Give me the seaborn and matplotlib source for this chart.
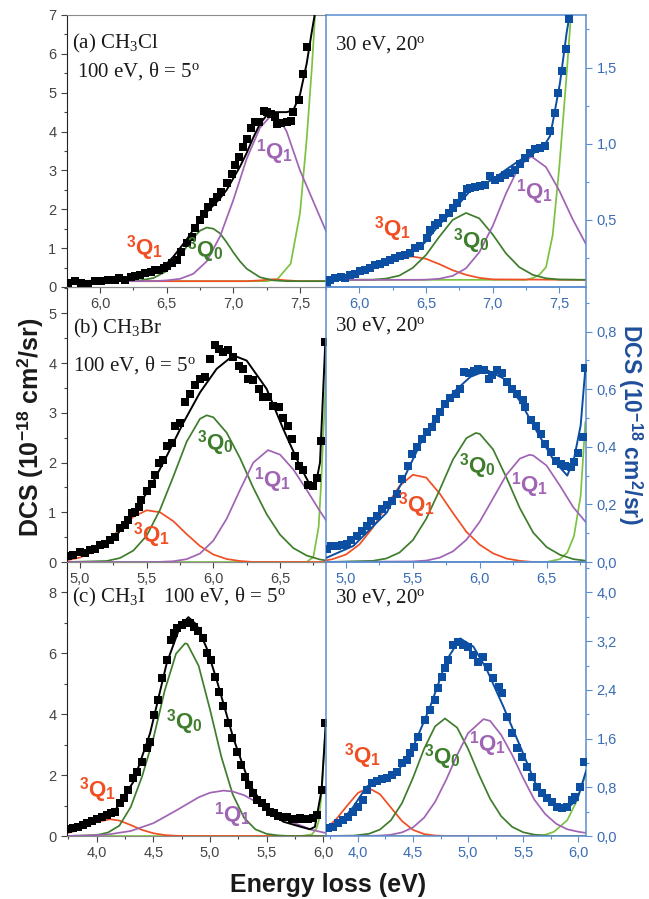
import matplotlib
matplotlib.use("Agg")
import matplotlib.pyplot as plt
import seaborn as sns
from matplotlib.ticker import MultipleLocator, FuncFormatter

# values: (energy loss eV, DCS 1e-18 cm^2/sr)
# ---- (a) CH3Cl, 100 eV ----
a_l_pts = [(5.76, .11), (5.81, .15), (5.86, .11), (5.91, .09), (5.96, .15), (6.01, .15), (6.06, .18),
           (6.11, .18), (6.14, .22), (6.19, .18), (6.23, .25), (6.26, .28), (6.30, .31), (6.34, .35),
           (6.38, .39), (6.41, .44), (6.44, .45), (6.48, .48), (6.50, .54), (6.54, .61), (6.58, .69),
           (6.61, .91), (6.65, 1.12), (6.69, 1.28), (6.71, 1.51), (6.75, 1.72), (6.78, 1.89), (6.81, 2.07),
           (6.85, 2.19), (6.88, 2.32), (6.91, 2.45), (6.95, 2.68), (6.99, 2.92), (7.01, 3.14), (7.04, 3.35),
           (7.07, 3.61), (7.10, 3.82), (7.13, 4.08), (7.16, 4.25), (7.19, 4.25), (7.23, 4.53), (7.25, 4.51),
           (7.28, 4.46), (7.31, 4.38), (7.33, 4.19), (7.36, 4.22), (7.40, 4.25), (7.43, 4.28), (7.45, 4.51),
           (7.49, 4.81), (7.52, 5.49), (7.55, 6.18)]
a_l_fit = [(5.75, .15), (6.0, .16), (6.2, .22), (6.3, .3), (6.4, .43), (6.5, .6), (6.55, .78), (6.6, 1.0),
           (6.65, 1.22), (6.7, 1.48), (6.75, 1.74), (6.8, 1.93), (6.85, 2.1), (6.9, 2.28), (6.95, 2.5),
           (7.0, 2.8), (7.05, 3.1), (7.1, 3.45), (7.15, 3.85), (7.2, 4.2), (7.25, 4.42), (7.3, 4.5),
           (7.35, 4.5), (7.4, 4.5), (7.45, 4.55), (7.5, 4.95), (7.55, 5.75), (7.59, 6.6), (7.62, 7.2)]
a_l_3q1 = [(5.75, .15), (7.1, .15), (7.2, .17), (7.3, .2), (7.4, .17), (7.5, .15), (7.7, .15)]
a_l_3q0 = [(5.75, .15), (6.2, .15), (6.3, .17), (6.4, .23), (6.5, .41), (6.6, .79), (6.65, 1.04), (6.7, 1.27),
           (6.75, 1.45), (6.8, 1.53), (6.85, 1.5), (6.9, 1.38), (6.95, 1.15), (7.0, .89), (7.05, .66),
           (7.1, .47), (7.2, .25), (7.3, .17), (7.4, .15), (7.7, .15)]
a_l_1q1 = [(5.75, .15), (6.4, .15), (6.5, .17), (6.6, .21), (6.7, .34), (6.8, .66), (6.9, 1.3), (7.0, 2.24),
           (7.1, 3.3), (7.2, 4.1), (7.28, 4.4), (7.35, 4.3), (7.4, 4.0), (7.5, 3.0), (7.6, 2.2), (7.7, 1.4)]
a_l_next = [(5.75, .15), (7.25, .15), (7.33, .2), (7.43, .6), (7.5, 1.9), (7.55, 3.8), (7.59, 5.7), (7.62, 7.4)]

a_r_pts = [(5.755, .086), (5.78, .107), (5.82, .118), (5.86, .123), (5.89, .118), (5.93, .14), (5.97, .147),
           (6.005, .162), (6.04, .173), (6.08, .184), (6.12, .206), (6.155, .213), (6.19, .221), (6.23, .235),
           (6.27, .25), (6.305, .261), (6.34, .272), (6.38, .283), (6.42, .316), (6.455, .327), (6.505, .382),
           (6.53, .436), (6.57, .469), (6.59, .48), (6.63, .513), (6.67, .546), (6.705, .579), (6.73, .612),
           (6.77, .656), (6.805, .70), (6.83, .71), (6.87, .717), (6.905, .721), (6.94, .732), (6.98, .787),
           (7.02, .765), (7.055, .776), (7.09, .798), (7.13, .809), (7.17, .831), (7.205, .864), (7.24, .908),
           (7.28, .941), (7.32, .963), (7.355, .974), (7.39, .985), (7.43, 1.083), (7.47, 1.204),
           (7.49, 1.336), (7.52, 1.478), (7.55, 1.625), (7.57, 1.822)]
a_r_fit = [(5.75, .09), (5.8, .105), (5.9, .125), (6.0, .155), (6.1, .19), (6.2, .217), (6.3, .26), (6.4, .3),
           (6.45, .316), (6.5, .36), (6.6, .47), (6.7, .557), (6.8, .66), (6.84, .7), (6.9, .725), (7.0, .765),
           (7.1, .83), (7.2, .89), (7.3, .934), (7.38, .98), (7.43, 1.05), (7.455, 1.16), (7.505, 1.40),
           (7.555, 1.73), (7.58, 1.86)]
a_r_3q1 = [(5.75, .107), (5.85, .11), (5.95, .125), (6.05, .16), (6.15, .2), (6.25, .24), (6.35, .258),
           (6.4, .26), (6.5, .245), (6.6, .21), (6.7, .17), (6.8, .14), (6.9, .12), (7.0, .11), (7.7, .107)]
a_r_3q0 = [(5.75, .107), (6.1, .108), (6.2, .115), (6.3, .135), (6.4, .185), (6.5, .27), (6.6, .39), (6.7, .5),
           (6.8, .546), (6.9, .51), (7.0, .405), (7.1, .28), (7.2, .19), (7.3, .14), (7.4, .117), (7.5, .109),
           (7.7, .107)]
a_r_1q1 = [(5.75, .107), (6.4, .107), (6.5, .108), (6.6, .114), (6.7, .133), (6.8, .183), (6.9, .288),
           (7.0, .46), (7.1, .674), (7.2, .855), (7.29, .917), (7.4, .847), (7.5, .692), (7.6, .505), (7.7, .341)]
a_r_next = [(5.75, .107), (7.25, .107), (7.3, .118), (7.35, .14), (7.4, .19), (7.45, .4), (7.5, .85),
            (7.55, 1.4), (7.6, 2.0)]

# ---- (b) CH3Br ----
b_l_pts = [(4.91, .115), (4.95, .135), (5.0, .203), (5.04, .182), (5.075, .25), (5.11, .27), (5.15, .338),
           (5.19, .372), (5.225, .44), (5.26, .507), (5.30, .676), (5.34, .743), (5.36, .845), (5.39, .98),
           (5.41, 1.01), (5.44, 1.115), (5.46, 1.25), (5.50, 1.42), (5.54, 1.574), (5.56, 1.757), (5.59, 1.993),
           (5.625, 2.06), (5.65, 2.33), (5.69, 2.40), (5.71, 2.74), (5.75, 2.80), (5.79, 3.21), (5.825, 3.38),
           (5.86, 3.55), (5.90, 3.68), (5.94, 3.72), (5.975, 4.09), (6.01, 4.36), (6.04, 4.29), (6.075, 4.22),
           (6.11, 4.26), (6.15, 4.12), (6.19, 3.95), (6.225, 3.885), (6.26, 3.68), (6.30, 3.65), (6.34, 3.48),
           (6.375, 3.31), (6.41, 3.31), (6.45, 3.14), (6.49, 3.11), (6.525, 2.905), (6.56, 2.74), (6.59, 2.47),
           (6.61, 2.13), (6.64, 1.93), (6.675, 1.86), (6.71, 1.55), (6.75, 1.52), (6.775, 1.69), (6.81, 2.43),
           (6.84, 4.43)]
b_l_fit = [(4.9, .1), (5.0, .16), (5.15, .30), (5.275, .54), (5.40, .98), (5.525, 1.49), (5.65, 2.13),
           (5.775, 2.80), (5.90, 3.41), (6.025, 3.885), (6.15, 4.155), (6.25, 4.05), (6.40, 3.48),
           (6.525, 2.67), (6.65, 1.93), (6.725, 1.55), (6.7625, 1.48), (6.80, 2.0), (6.84, 4.43)]
b_l_3q1 = [(4.9, .033), (5.0, .09), (5.1, .21), (5.2, .41), (5.3, .66), (5.4, .91), (5.5, 1.04), (5.6, 1.0),
           (5.7, .82), (5.8, .56), (5.9, .32), (6.0, .15), (6.1, .06), (6.2, .02), (6.3, 0), (6.85, 0)]
b_l_3q0 = [(4.9, 0), (5.2, .02), (5.3, .08), (5.4, .23), (5.5, .53), (5.6, 1.05), (5.7, 1.72), (5.8, 2.42),
           (5.9, 2.88), (5.95, 2.95), (6.0, 2.91), (6.1, 2.6), (6.2, 2.09), (6.3, 1.49), (6.4, .96), (6.5, .55),
           (6.6, .28), (6.7, .13), (6.8, .05), (6.85, .03)]
b_l_1q1 = [(4.9, 0), (5.5, 0), (5.6, .003), (5.7, .015), (5.8, .057), (5.9, .17), (6.0, .43), (6.1, .87),
           (6.2, 1.45), (6.3, 2.0), (6.41, 2.25), (6.5, 2.16), (6.6, 1.86), (6.7, 1.45), (6.8, 1.02), (6.85, .82)]
b_l_next = [(4.9, 0), (6.7, 0), (6.75, .1), (6.79, .71), (6.81, 1.66), (6.84, 3.48), (6.85, 4.6)]

b_r_pts = [(4.855, .0465), (4.89, .056), (4.93, .056), (4.97, .058), (5.005, .062), (5.04, .077), (5.08, .091),
           (5.12, .108), (5.155, .126), (5.19, .143), (5.23, .16), (5.27, .184), (5.305, .198), (5.34, .213),
           (5.38, .236), (5.42, .288), (5.46, .335), (5.49, .376), (5.53, .399), (5.57, .428), (5.605, .451),
           (5.64, .469), (5.67, .498), (5.705, .521), (5.74, .548), (5.78, .57), (5.82, .585), (5.855, .602),
           (5.88, .66), (5.92, .655), (5.955, .663), (5.99, .67), (6.03, .666), (6.07, .637), (6.09, .649),
           (6.13, .666), (6.17, .655), (6.205, .626), (6.24, .60), (6.28, .585), (6.32, .562), (6.34, .538),
           (6.38, .492), (6.42, .474), (6.455, .445), (6.49, .41), (6.53, .381), (6.57, .352), (6.605, .341),
           (6.64, .335), (6.68, .329), (6.705, .347), (6.735, .379), (6.77, .434), (6.79, .672)]
b_r_fit = [(4.855, .015), (5.055, .056), (5.305, .172), (5.43, .288), (5.555, .41), (5.68, .51), (5.805, .59),
           (5.93, .643), (6.055, .666), (6.18, .637), (6.305, .556), (6.43, .451), (6.555, .352), (6.655, .30),
           (6.705, .358), (6.755, .474), (6.79, .67)]
b_r_3q1 = [(4.85, .0055), (4.9, .01), (5.0, .026), (5.1, .061), (5.2, .119), (5.3, .193), (5.4, .264),
           (5.5, .303), (5.6, .293), (5.7, .238), (5.8, .17), (5.9, .105), (6.0, .06), (6.1, .03), (6.2, .012),
           (6.3, .004), (6.4, 0), (6.8, 0)]
b_r_3q0 = [(4.85, 0), (5.2, .004), (5.3, .012), (5.4, .033), (5.5, .076), (5.6, .15), (5.7, .25), (5.8, .356),
           (5.9, .43), (5.97, .448), (6.0, .445), (6.1, .391), (6.2, .293), (6.3, .187), (6.4, .102),
           (6.5, .052), (6.6, .025), (6.7, .01), (6.8, .004)]
b_r_1q1 = [(4.85, 0), (5.5, .002), (5.6, .005), (5.7, .015), (5.8, .037), (5.9, .077), (6.0, .14), (6.1, .221),
           (6.2, .303), (6.3, .359), (6.37, .372), (6.4, .37), (6.5, .335), (6.6, .265), (6.7, .19), (6.8, .135)]
b_r_next = [(4.85, 0), (6.5, 0), (6.6, .01), (6.655, .033), (6.705, .09), (6.755, .23), (6.79, .486)]

# ---- (c) CH3I ----
c_l_pts = [(3.75, .22), (3.794, .25), (3.838, .31), (3.882, .36), (3.918, .44), (3.956, .50), (4.0, .55),
           (4.044, .63), (4.088, .69), (4.124, .74), (4.162, .80), (4.206, 1.07), (4.241, 1.24), (4.279, 1.51),
           (4.324, 1.89), (4.359, 2.11), (4.397, 2.44), (4.441, 2.88), (4.47, 3.10), (4.506, 3.97),
           (4.544, 4.46), (4.579, 5.18), (4.618, 5.78), (4.653, 6.43), (4.682, 6.67), (4.712, 6.82),
           (4.75, 6.93), (4.785, 7.00), (4.824, 6.98), (4.859, 6.87), (4.897, 6.71), (4.935, 6.49),
           (4.971, 6.00), (5.006, 5.78), (5.044, 5.23), (5.082, 4.74), (5.118, 4.25), (5.162, 3.70),
           (5.197, 3.21), (5.235, 2.77), (5.271, 2.33), (5.309, 1.95), (5.347, 1.67), (5.382, 1.40),
           (5.418, 1.18), (5.456, 1.07), (5.491, .94), (5.529, .80), (5.565, .74), (5.603, .66), (5.641, .63),
           (5.676, .63), (5.721, .55), (5.759, .55), (5.794, .58), (5.829, .55), (5.868, .55), (5.906, .58),
           (5.941, .69), (5.985, 1.51), (6.015, 3.70)]
c_l_fit = [(3.735, .14), (4.029, .58), (4.176, .91), (4.324, 1.78), (4.471, 3.37), (4.618, 5.67),
           (4.735, 6.87), (4.809, 7.18), (4.882, 6.93), (4.971, 6.16), (5.059, 5.12), (5.206, 3.21),
           (5.353, 1.67), (5.5, .85), (5.647, .47), (5.794, .31), (5.882, .22), (5.926, .3), (5.985, 1.51),
           (6.024, 3.8)]
c_l_3q1 = [(3.73, .084), (3.8, .155), (3.9, .30), (4.0, .46), (4.118, .55), (4.2, .505), (4.3, .36), (4.4, .2),
           (4.5, .09), (4.6, .03), (4.7, .008), (4.8, 0), (6.05, 0)]
c_l_3q0 = [(3.73, 0), (4.0, .03), (4.1, .114), (4.2, .34), (4.3, .95), (4.4, 1.95), (4.5, 3.2), (4.6, 4.77),
           (4.7, 5.98), (4.78, 6.32), (4.8, 6.3), (4.9, 5.58), (5.0, 4.15), (5.1, 2.6), (5.2, 1.37), (5.3, .6),
           (5.4, .22), (5.5, .07), (5.6, .02), (5.7, 0), (6.05, 0)]
c_l_1q1 = [(3.73, .003), (3.9, .011), (4.1, .049), (4.3, .164), (4.5, .42), (4.7, .834), (4.9, 1.27),
           (5.0, 1.42), (5.12, 1.49), (5.2, 1.46), (5.3, 1.34), (5.5, .93), (5.7, .49), (5.9, .2), (6.02, .1)]
c_l_next = [(3.73, 0), (5.8, 0), (5.9, .05), (5.94, .25), (5.96, .5), (5.985, 1.4), (6.024, 3.8)]

c_r_pts = [(3.73, .126), (3.776, .153), (3.82, .208), (3.867, .263), (3.912, .317), (3.958, .40), (4.003, .48),
           (4.048, .59), (4.079, .755), (4.124, .865), (4.17, .908), (4.215, .93), (4.26, .947), (4.306, 1.00),
           (4.352, 1.056), (4.397, 1.193), (4.442, 1.248), (4.473, 1.357), (4.509, 1.466), (4.548, 1.63),
           (4.609, 1.904), (4.655, 2.068), (4.70, 2.233), (4.73, 2.424), (4.76, 2.616), (4.79, 2.752),
           (4.821, 2.889), (4.867, 3.135), (4.912, 3.19), (4.958, 3.135), (5.003, 3.108), (5.048, 2.971),
           (5.094, 2.862), (5.139, 2.944), (5.185, 2.78), (5.23, 2.588), (5.276, 2.451), (5.306, 2.342),
           (5.352, 1.959), (5.397, 1.685), (5.442, 1.439), (5.488, 1.302), (5.533, 1.138), (5.579, .974),
           (5.624, .81), (5.67, .70), (5.715, .618), (5.761, .564), (5.806, .482), (5.852, .454), (5.897, .482),
           (5.942, .591), (5.973, .646), (6.018, .81), (6.055, 1.22)]
c_r_fit = [(3.715, .1), (3.836, .21), (3.958, .48), (4.079, .81), (4.2, .92), (4.352, 1.03), (4.503, 1.47),
           (4.655, 2.12), (4.806, 2.89), (4.927, 3.245), (5.048, 3.11), (5.17, 2.73), (5.321, 2.12),
           (5.473, 1.47), (5.624, .81), (5.776, .51), (5.897, .454), (5.988, .59), (6.073, 1.08)]
c_r_3q1 = [(3.71, .125), (3.8, .27), (3.9, .494), (4.0, .707), (4.094, .79), (4.2, .687), (4.3, .465),
           (4.4, .245), (4.5, .1), (4.6, .032), (4.7, .008), (4.8, 0), (6.1, 0)]
c_r_3q0 = [(3.71, 0), (3.96, .006), (4.1, .036), (4.2, .106), (4.3, .26), (4.4, .54), (4.5, .957), (4.6, 1.43),
           (4.7, 1.8), (4.79, 1.93), (4.9, 1.78), (5.0, 1.43), (5.1, 1.0), (5.2, .61), (5.3, .325), (5.4, .15),
           (5.5, .061), (5.6, .022), (5.7, .007), (5.8, 0), (6.1, 0)]
c_r_1q1 = [(3.71, 0), (4.1, .002), (4.2, .007), (4.3, .021), (4.4, .059), (4.5, .141), (4.6, .3), (4.7, .56),
           (4.8, .92), (4.9, 1.33), (5.0, 1.69), (5.14, 1.92), (5.2, 1.89), (5.3, 1.66), (5.4, 1.33),
           (5.5, .95), (5.6, .60), (5.7, .36), (5.8, .2), (5.9, .11), (6.0, .07), (6.07, .05)]
c_r_next = [(3.71, 0), (5.6, 0), (5.7, .02), (5.78, .07), (5.9, .26), (5.99, .59), (6.07, 1.03)]

# ---- styling ----
sns.set_style("ticks")
plt.rcParams['font.family'] = ['Liberation Sans', 'DejaVu Sans']
plt.rcParams['mathtext.fontset'] = 'custom'
plt.rcParams['mathtext.rm'] = 'Liberation Serif'
plt.rcParams['mathtext.it'] = 'Liberation Serif:italic'
plt.rcParams['mathtext.bf'] = 'Liberation Sans:bold'
plt.rcParams['mathtext.sf'] = 'Liberation Sans'

RED = '#f04e23'
DKGREEN = '#3e7d2c'
PURPLE = '#a064b4'
LTGREEN = '#7cc242'
AXBLUE = '#5b8dcf'
TXTBLUE = '#3a6cb4'
PTBLUE = '#0b4ea2'
GRAY = '#444444'

W, H = 649, 899
fig = plt.figure(figsize=(W / 100, H / 100), dpi=100)
fig.patch.set_facecolor('white')

comma = FuncFormatter(lambda v, p: f"{v:.1f}".replace('.', ','))
integer = FuncFormatter(lambda v, p: f"{v:.0f}")


def px_axes(x0, y0, x1, y1):
    return fig.add_axes([x0 / W, 1 - y1 / H, (x1 - x0) / W, (y1 - y0) / H])


def unzip(series):
    return [p[0] for p in series], [p[1] for p in series]


def draw(ax, pts, fit, comps, pcol):
    for col, ser in comps:
        x, y = unzip(ser)
        sns.lineplot(x=x, y=y, ax=ax, color=col, lw=1.25, errorbar=None, sort=False, zorder=2)
    x, y = unzip(pts)
    sns.scatterplot(x=x, y=y, ax=ax, marker='s', s=27, color=pcol, linewidth=0, zorder=3)
    x, y = unzip(fit)
    sns.lineplot(x=x, y=y, ax=ax, color=pcol, lw=1.4, errorbar=None, sort=False, zorder=4)
    ax.set_xlabel('')
    ax.set_ylabel('')
    ax.set_facecolor('none')


rows = [(15, 287), (287, 562), (562, 836)]
panels = [
    (a_l_pts, a_l_fit, a_l_3q1, a_l_3q0, a_l_1q1, a_l_next, a_r_pts, a_r_fit, a_r_3q1, a_r_3q0, a_r_1q1, a_r_next,
     (5.75, 7.695), (0, 7), 1, 0.5, (5.75, 7.70), (0.06, 1.845), 0.5, 0.25),
    (b_l_pts, b_l_fit, b_l_3q1, b_l_3q0, b_l_1q1, b_l_next, b_r_pts, b_r_fit, b_r_3q1, b_r_3q0, b_r_1q1, b_r_next,
     (4.9, 6.845), (0, 5.53), 1, 0.5, (4.85, 6.795), (0, 0.955), 0.2, 0.1),
    (c_l_pts, c_l_fit, c_l_3q1, c_l_3q0, c_l_1q1, c_l_next, c_r_pts, c_r_fit, c_r_3q1, c_r_3q0, c_r_1q1, c_r_next,
     (3.735, 6.024), (0, 8.99), 2, 1, (3.71, 6.07), (0, 4.5), 0.8, 0.4),
]

for (y0, y1), p in zip(rows, panels):
    (lp, lf, l1, l2, l3, l4, rp, rf, r1, r2, r3, r4, lxl, lyl, lmaj, lmin, rxl, ryl, rmaj, rmin) = p

    axl = px_axes(66.7, y0, 326, y1)
    draw(axl, lp, lf, [(LTGREEN, l4), (RED, l1), (DKGREEN, l2), (PURPLE, l3)], 'black')
    axl.set_xlim(*lxl)
    axl.set_ylim(*lyl)
    axl.xaxis.set_major_locator(MultipleLocator(0.5))
    axl.xaxis.set_minor_locator(MultipleLocator(0.25))
    axl.yaxis.set_major_locator(MultipleLocator(lmaj))
    axl.yaxis.set_minor_locator(MultipleLocator(lmin))
    axl.xaxis.set_major_formatter(comma)
    axl.yaxis.set_major_formatter(integer)
    axl.tick_params(which='both', direction='out', colors=GRAY, labelsize=10.5, width=0.8)
    axl.tick_params(which='major', length=4)
    axl.tick_params(which='minor', length=2.5)
    axl.spines['right'].set_visible(False)
    axl.spines['left'].set_color('#222222')
    for s in ('top', 'bottom'):
        axl.spines[s].set_color('#8a8a8a')

    axr = px_axes(326, y0, 586, y1)
    draw(axr, rp, rf, [(LTGREEN, r4), (RED, r1), (DKGREEN, r2), (PURPLE, r3)], PTBLUE)
    axr.set_xlim(*rxl)
    axr.set_ylim(*ryl)
    axr.xaxis.set_major_locator(MultipleLocator(0.5))
    axr.xaxis.set_minor_locator(MultipleLocator(0.25))
    axr.yaxis.set_major_locator(MultipleLocator(rmaj))
    axr.yaxis.set_minor_locator(MultipleLocator(rmin))
    axr.xaxis.set_major_formatter(comma)
    axr.yaxis.set_major_formatter(comma)
    axr.yaxis.tick_right()
    axr.tick_params(which='both', direction='out', colors=AXBLUE, labelcolor=TXTBLUE, labelsize=10.5, width=0.8)
    axr.tick_params(which='major', length=4)
    axr.tick_params(which='minor', length=2.5)
    for s in axr.spines.values():
        s.set_color(AXBLUE)
        s.set_linewidth(1.1)


def ft(x, y, s, **kw):
    fig.text(x / W, 1 - y / H, s, **kw)


serif = dict(family='Liberation Serif', fontsize=15, color='#1a1a1a', va='baseline', ha='left')
ft(72, 48, "(a) CH$_3$Cl", **serif)
ft(77, 77, "100 eV, θ = 5$^{\\rm o}$", **serif)
ft(335, 50, "30 eV, 20$^{\\rm o}$", **serif)
ft(73, 333, "(b) CH$_3$Br", **serif)
ft(73, 371, "100 eV, θ = 5$^{\\rm o}$", **serif)
ft(335, 331, "30 eV, 20$^{\\rm o}$", **serif)
ft(72, 602, "(c) CH$_3$I", **serif)
ft(163, 602, "100 eV, θ = 5$^{\\rm o}$", **serif)
ft(335, 603, "30 eV, 20$^{\\rm o}$", **serif)


def q(a, b):
    return r"$^{\mathbf{%s}}\mathbf{Q}_{\mathbf{%s}}$" % (a, b)


lab = dict(fontsize=16, ha='center', va='center')
for (x, y, kind) in [(145, 248, 'r'), (205, 250, 'g'), (275, 152, 'p'),
                     (393, 229, 'r'), (471, 241, 'g'), (535, 192, 'p'),
                     (152, 535, 'r'), (215, 443, 'g'), (273, 480, 'p'),
                     (417, 505, 'r'), (477, 466, 'g'), (530, 485, 'p'),
                     (98, 790, 'r'), (184, 722, 'g'), (233, 815, 'p'),
                     (363, 756, 'r'), (442, 757, 'g'), (488, 744, 'p')]:
    if kind == 'r':
        ft(x, y, q(3, 1), color=RED, **lab)
    elif kind == 'g':
        ft(x, y, q(3, 0), color=DKGREEN, **lab)
    else:
        ft(x, y, q(1, 1), color=PURPLE, **lab)

ft(30, 427, r"DCS (10$^{\mathbf{-18}}$ cm$^{\mathbf{2}}$/sr)", rotation=90, fontsize=18,
   fontweight='bold', color='#1a1a1a', ha='center', va='center')
ft(630, 425, r"DCS (10$^{\mathbf{-18}}$ cm$^{\mathbf{2}}$/sr)", rotation=-90, fontsize=16.5,
   fontweight='bold', color='#1f4e9c', ha='center', va='center')
ft(328, 885, "Energy loss (eV)", fontsize=18, fontweight='bold', color='#1a1a1a', ha='center', va='center')

fig.savefig('out.png', dpi=100)
